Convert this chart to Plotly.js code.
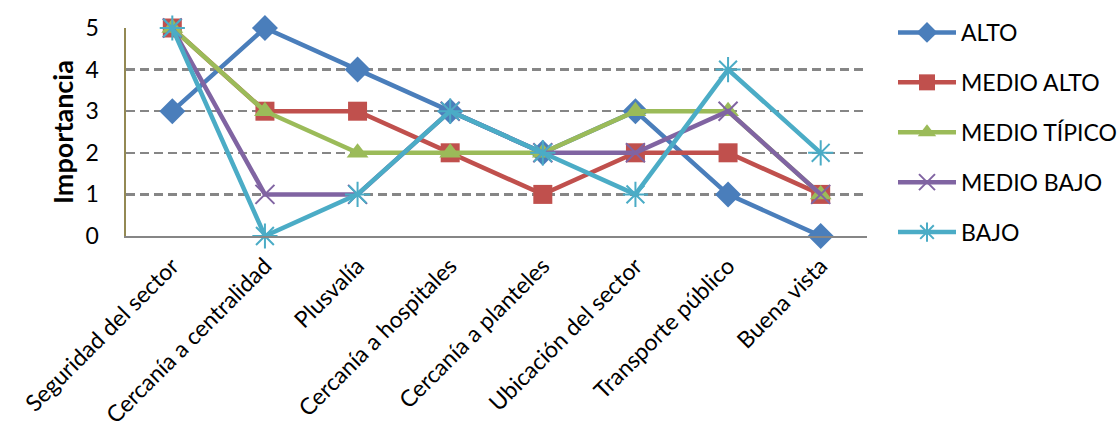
<!DOCTYPE html>
<html><head><meta charset="utf-8">
<script src="https://cdn.plot.ly/plotly-3.0.1.min.js"></script>
<style>body{margin:0;background:#fff}#c{width:1118px;height:437px}</style>
</head><body><div id="c"></div>
<script>
const categories = ["Seguridad del sector","Cercanía a centralidad","Plusvalía","Cercanía a hospitales","Cercanía a planteles","Ubicación del sector","Transporte público","Buena vista"];
const seriesNames = ["ALTO","MEDIO ALTO","MEDIO TÍPICO","MEDIO BAJO","BAJO"];
const alto        = [3,5,4,3,2,3,1,0];
const medioAlto   = [5,3,3,2,1,2,2,1];
const medioTipico = [5,3,2,2,2,3,3,1];
const medioBajo   = [5,1,1,3,2,2,3,1];
const bajo        = [5,0,1,3,2,1,4,2];
const yTicks = [0,1,2,3,4,5];

const values = [alto, medioAlto, medioTipico, medioBajo, bajo];
const colors = ["#4A7EBB","#C0504D","#9BBB59","#8064A2","#4BACC6"];
const symbols = ["diamond","square","triangle-up","x-thin-open","asterisk-open"];
const sizes = [20,19,19,19,21];
const FONT = "Lato, 'Open Sans', sans-serif";

const traces = values.map((v,i)=>({
  type:'scatter', mode:'lines+markers', x:categories, y:v, name:seriesNames[i],
  legendgroup:'g'+i,
  line:{color:colors[i], width:4.5},
  marker:{symbol:symbols[i], size:sizes[i], color:colors[i], line:{color:colors[i], width:(i>=3?2:0)}},
  cliponaxis:false
}));

const layout = {
  width:1118, height:437,
  margin:{l:126, r:251, t:28, b:201},
  paper_bgcolor:'#fff', plot_bgcolor:'#fff',
  font:{family:FONT, size:23, color:'#000'},
  showlegend:true,
  legend:{xref:'container', yref:'container', x:893/1118, y:1-11/437, xanchor:'left', yanchor:'top', maxheight:430,
          font:{family:FONT, size:23, color:'#000'}, itemwidth:58, tracegroupgap:17, traceorder:'grouped'},
  xaxis:{type:'category', tickangle:-45, showgrid:false, zeroline:false, showline:true, linecolor:'#868686', linewidth:1.5,
         ticks:'', tickfont:{family:FONT, size:23}, range:[-0.5,7.5], fixedrange:true, ticklabelstandoff:6},
  yaxis:{range:[0,5], tickvals:yTicks, ticktext:yTicks.map(String), showgrid:true, gridcolor:'#868686', griddash:'9px,5px', gridwidth:2.5,
         zeroline:false, showline:true, linecolor:'#938953', linewidth:2.5, ticks:'', ticklen:0, ticklabelstandoff:20,
         tickfont:{family:FONT, size:23}, title:{text:'<b>Importancia</b>', font:{family:FONT, size:27}, standoff:4}}
};
Plotly.newPlot('c', traces, layout, {displayModeBar:false, staticPlot:true});
</script></body></html>
